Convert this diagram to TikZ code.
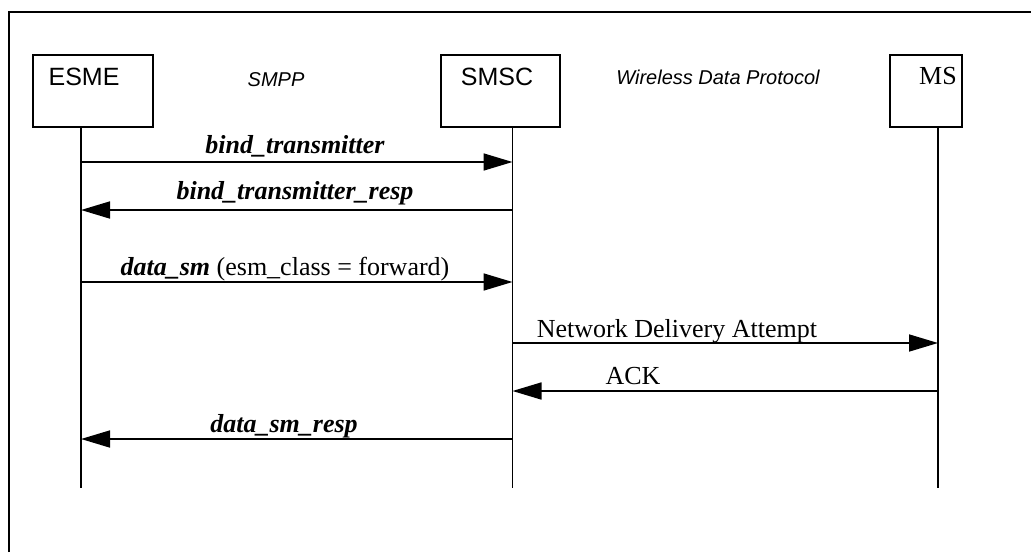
\documentclass[tikz,border=0pt]{standalone}
\usepackage{fontspec}
\setmainfont{Liberation Serif}
\setsansfont{Liberation Sans}
\usetikzlibrary{arrows.meta}
\begin{document}
\begin{tikzpicture}[x=1pt,y=-1pt,
  actorbox/.style={draw,line width=2.2pt,minimum width=#1,minimum height=72pt,inner sep=0pt},
  actortext/.style={anchor=base,font=\sffamily\fontsize{25}{28}\selectfont},
  mstext/.style={anchor=base,font=\rmfamily\fontsize{26}{28}\selectfont},
  prototext/.style={anchor=base,font=\sffamily\itshape\fontsize{20}{24}\selectfont},
  msglabel/.style={anchor=base,font=\rmfamily\bfseries\itshape\fontsize{26}{30}\selectfont},
  plainlabel/.style={anchor=base,font=\rmfamily\fontsize{26}{30}\selectfont},
  lifeline/.style={line width=1.9pt},
  msg/.style={line width=1.7pt,-{Triangle[length=29pt,width=17pt]}},
  frame/.style={line width=1.7pt}]
\useasboundingbox (0,0) rectangle (1031,552);
% outer frame (open to the right and bottom)
\coordinate (fbl) at (9,552);
\coordinate (ftl) at (9,12);
\coordinate (ftr) at (1031,12);
\draw[frame] (fbl) -- (ftl) -- (ftr);
% actor boxes
\node[actorbox=120pt] (esme) at (93,91) {};
\node[actorbox=119pt] (smsc) at (500.5,91) {};
\node[actorbox=72pt] (ms) at (926,91) {};
\node[actortext] (esmet) at (84,85) {ESME};
\node[actortext] (smsct) at (497,85) {SMSC};
\node[mstext] (mst) at (938,84) {MS};
\node[prototext] (smpp) at (276,86) {SMPP};
\node[prototext] (wdp) at (718,84) {Wireless Data Protocol};
% lifelines
\coordinate (esmetop) at (81,127);
\coordinate (smsctop) at (512.5,127);
\coordinate (mstop) at (938,127);
\coordinate (esmebot) at (81,488);
\coordinate (smscbot) at (512.5,488);
\coordinate (msbot) at (938,488);
\draw[lifeline] (esmetop) -- (esmebot);
\draw[lifeline] (smsctop) -- (smscbot);
\draw[lifeline] (mstop) -- (msbot);
% message endpoints
\coordinate (e1) at (81,162);   \coordinate (s1) at (512.5,162);
\coordinate (e2) at (81,210);   \coordinate (s2) at (512.5,210);
\coordinate (e3) at (81,282);   \coordinate (s3) at (512.5,282);
\coordinate (s4) at (512.5,343); \coordinate (m4) at (938,343);
\coordinate (s5) at (512.5,391); \coordinate (m5) at (938,391);
\coordinate (e6) at (81,439);   \coordinate (s6) at (512.5,439);
% messages
\draw[msg] (e1) -- (s1);
\node[msglabel] (l1) at (295,153) {bind\_transmitter};
\draw[msg] (s2) -- (e2);
\node[msglabel] (l2) at (295,199) {bind\_transmitter\_resp};
\draw[msg] (e3) -- (s3);
\node[plainlabel] (l3) at (285,275) {\textbf{\textit{data\_sm}} (esm\_class = forward)};
\draw[msg] (s4) -- (m4);
\node[plainlabel] (l4) at (677,337) {Network Delivery Attempt};
\draw[msg] (m5) -- (s5);
\node[plainlabel] (l5) at (633,384) {ACK};
\draw[msg] (s6) -- (e6);
\node[msglabel] (l6) at (284,432) {data\_sm\_resp};
\end{tikzpicture}
\end{document}
